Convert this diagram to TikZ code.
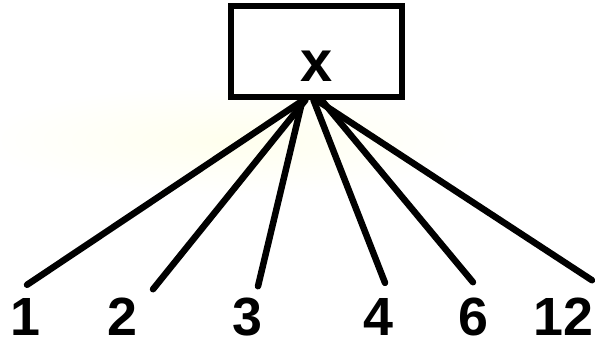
\documentclass[tikz,border=0pt]{standalone}
\usepackage{fontspec}
\setmainfont{Liberation Sans}
\usetikzlibrary{positioning}
\colorlet{Ink}{black}
\colorlet{Glow}{yellow!7!white}

\begin{document}
\begin{tikzpicture}[x=1bp,y=-1bp,
    topbox/.style={draw=Ink,line width=6bp,minimum width=171bp,minimum height=91bp,inner sep=0pt},
    numlab/.style={font=\fontsize{54}{54}\selectfont\bfseries,text=Ink,inner sep=0pt,anchor=base},
    spoke/.style={draw=Ink,line width=6.5bp,line cap=round}
  ]
  \useasboundingbox (0,0) rectangle (595,346);
  \shade[inner color=Glow,outer color=white] (230,140) ellipse [x radius=250, y radius=55];
  \node[topbox] (box) at (316.5,51.5) {};
  \node[numlab,anchor=center,font=\fontsize{58}{58}\selectfont\bfseries] (xlab) at (317,66) {x};
  \foreach \n/\px in {1/25,2/122,3/247,4/378,6/473,12/563}{
    \node[numlab] (n\n) at (\px,335) {\n};
  }
  \foreach \n/\s/\t/\u in {1/-13/2/13,2/-11/31/8,3/-14/11/11,4/-3/7/15,6/5/0/15,12/0/29/17}{
    \draw[spoke] ([xshift=\s bp]box.south) -- ([xshift=\t bp,yshift=\u bp]n\n.north);
  }
\end{tikzpicture}
\end{document}
